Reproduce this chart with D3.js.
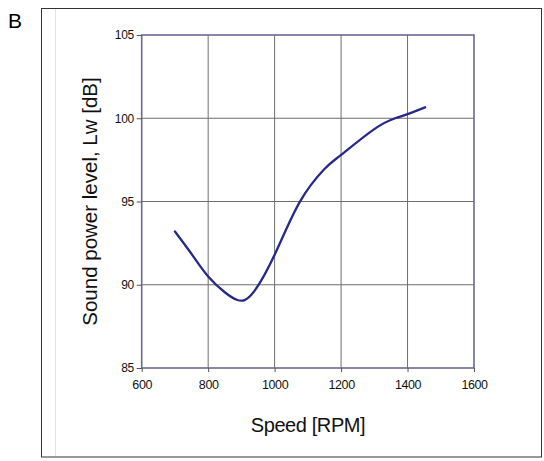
<!DOCTYPE html>
<html><head><meta charset="utf-8">
<script src="https://cdn.jsdelivr.net/npm/d3@7/dist/d3.min.js"></script>
<style>html,body{margin:0;padding:0;background:#fff;}svg{display:block;}</style>
</head><body>
<script>
const speed = [700, 750, 800, 850, 886, 930, 1000, 1075, 1150, 1200, 1300, 1363, 1400, 1453];
const lw    = [93.2, 91.85, 90.5, 89.55, 89.1, 89.4, 91.8, 94.95, 96.95, 97.8, 99.35, 100.0, 100.25, 100.66];
const xTicks = [600, 800, 1000, 1200, 1400, 1600];
const yTicks = [85, 90, 95, 100, 105];

const W = 544, H = 461;
const svg = d3.select("body").append("svg").attr("width", W).attr("height", H);
const font = "'Liberation Sans', Arial, sans-serif";

// outer frame
svg.append("rect").attr("x", 41.5).attr("y", 8.5).attr("width", 500).attr("height", 448.5)
  .attr("fill", "none").attr("stroke", "#333").attr("stroke-width", 1);
svg.append("line").attr("x1", 55.5).attr("x2", 55.5).attr("y1", 9).attr("y2", 456)
  .attr("stroke", "#e2e2e2").attr("stroke-width", 1);
svg.append("text").attr("x", 8).attr("y", 28).attr("font-family", font).attr("font-size", 21)
  .attr("fill", "#000").text("B");

const x = d3.scaleLinear().domain([600, 1600]).range([141.7, 474]);
const y = d3.scaleLinear().domain([85, 105]).range([368, 35]);

// grid
const g = svg.append("g");
g.selectAll(".vg").data(xTicks.slice(1, -1)).join("line")
  .attr("x1", d => x(d)).attr("x2", d => x(d)).attr("y1", y(105)).attr("y2", y(85))
  .attr("stroke", "#6e6e6e").attr("stroke-width", 1);
g.selectAll(".hg").data(yTicks.slice(1, -1)).join("line")
  .attr("x1", x(600)).attr("x2", x(1600)).attr("y1", d => y(d)).attr("y2", d => y(d))
  .attr("stroke", "#6e6e6e").attr("stroke-width", 1);

// plot border
g.append("rect").attr("x", x(600)).attr("y", y(105)).attr("width", x(1600) - x(600)).attr("height", y(85) - y(105))
  .attr("fill", "none").attr("stroke", "#6a6a90").attr("stroke-width", 1.6);

// axes
const xAxis = d3.axisBottom(x).tickValues(xTicks).tickSize(4).tickPadding(8).tickFormat(d3.format("d"));
const yAxis = d3.axisLeft(y).tickValues(yTicks).tickSize(5).tickPadding(3).tickFormat(d3.format("d"));
const xa = svg.append("g").attr("transform", `translate(0,${y(85)})`).call(xAxis);
const ya = svg.append("g").attr("transform", `translate(${x(600)},0)`).call(yAxis);
[xa, ya].forEach(a => {
  a.select(".domain").remove();
  a.selectAll(".tick line").attr("stroke", "#555");
  a.selectAll(".tick text").attr("font-family", font).attr("fill", "#111").attr("letter-spacing", -0.4);
});
xa.selectAll(".tick text").attr("font-size", 12.5);
ya.selectAll(".tick text").attr("font-size", 12);

// axis titles
svg.append("text").attr("x", 308).attr("y", 432).attr("text-anchor", "middle")
  .attr("font-family", font).attr("font-size", 20).attr("letter-spacing", -0.4).attr("fill", "#111").text("Speed [RPM]");
svg.append("text").attr("transform", `translate(97,${(y(85) + y(105)) / 2}) rotate(-90)`).attr("text-anchor", "middle")
  .attr("font-family", font).attr("font-size", 20.5).attr("letter-spacing", 0).attr("fill", "#111")
  .text("Sound power level, Lw [dB]");

// curve
const pts = speed.map((s, i) => [s, lw[i]]);
svg.append("path").datum(pts)
  .attr("d", d3.line().x(d => x(d[0])).y(d => y(d[1])).curve(d3.curveNatural))
  .attr("fill", "none").attr("stroke", "#262a86").attr("stroke-width", 2.3).attr("stroke-linecap", "round");
</script>
</body></html>
